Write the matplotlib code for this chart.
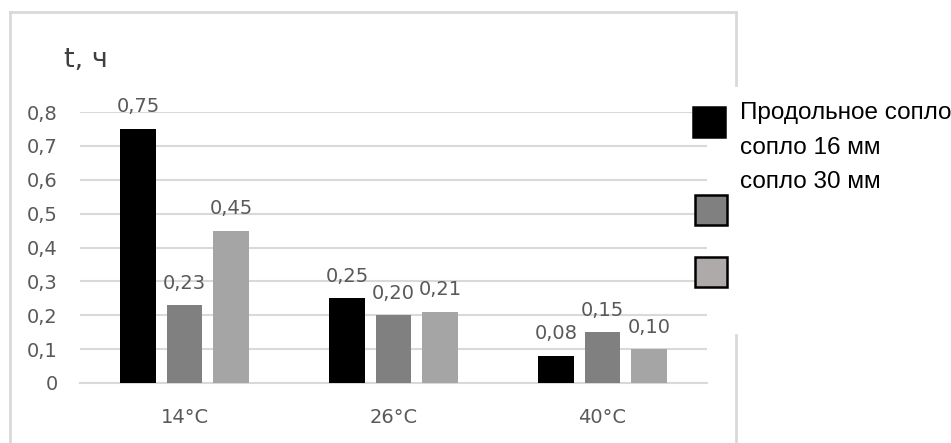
import matplotlib.pyplot as plt
from matplotlib.patches import Rectangle
from matplotlib.lines import Line2D
import numpy as np

categories = ["14°C", "26°C", "40°C"]
series_names = ["Продольное сопло", "сопло 16 мм", "сопло 30 мм"]
longitudinal = [0.75, 0.25, 0.08]
nozzle_16 = [0.23, 0.20, 0.15]
nozzle_30 = [0.45, 0.21, 0.10]
y_ticks = [0, 0.1, 0.2, 0.3, 0.4, 0.5, 0.6, 0.7, 0.8]

bar_colors = ["#000000", "#808080", "#A5A5A5"]
swatch_colors = ["#000000", "#808080", "#AEAAAA"]
text_gray = "#595959"
grid_gray = "#D9D9D9"

W, H = 951, 443
fig = plt.figure(figsize=(W / 100, H / 100), dpi=100)


def fx(px):
    return px / W


def fy(py):
    return 1 - py / H


# chart frame (bottom edge falls outside the image)
frame = dict(color=grid_gray, lw=2, transform=fig.transFigure)
fig.add_artist(Line2D([fx(10), fx(10)], [fy(12), fy(445)], **frame))
fig.add_artist(Line2D([fx(10), fx(736)], [fy(12), fy(12)], **frame))
fig.add_artist(Line2D([fx(736), fx(736)], [fy(12), fy(85)], **frame))
fig.add_artist(Line2D([fx(736), fx(736)], [fy(335), fy(445)], **frame))

ax = fig.add_axes([fx(80), fy(383), fx(707) - fx(80), fy(112) - fy(383)])

x = np.arange(len(categories))
width = 0.172
step = 0.2225
for i, vals in enumerate([longitudinal, nozzle_16, nozzle_30]):
    bars = ax.bar(x + (i - 1) * step, vals, width, color=bar_colors[i], zorder=3)
    for b, v in zip(bars, vals):
        ax.annotate(f"{v:.2f}".replace(".", ","),
                    (b.get_x() + b.get_width() / 2, v),
                    xytext=(0, 9), textcoords="offset points",
                    ha="center", va="bottom", fontsize=14, color=text_gray)

ax.set_xlim(-0.5, 2.5)
ax.set_ylim(0, 0.8)
ax.set_yticks(y_ticks)
ax.set_yticklabels([("%g" % t).replace(".", ",") for t in y_ticks])
ax.set_xticks(x)
ax.set_xticklabels(categories)
ax.tick_params(axis="y", length=0, pad=16, labelsize=14, labelcolor=text_gray)
ax.tick_params(axis="x", length=0, pad=18, labelsize=14, labelcolor=text_gray)
ax.grid(axis="y", color=grid_gray, lw=1.5, zorder=0)
ax.set_axisbelow(True)
for s in ["top", "right", "left"]:
    ax.spines[s].set_visible(False)
ax.spines["bottom"].set_color(grid_gray)
ax.spines["bottom"].set_linewidth(1.5)
ax.spines["bottom"].set_zorder(0)

fig.text(fx(64), fy(60), "t, ч", fontsize=19.5, color="#404040", ha="left", va="center")

# legend: swatches on the left, names stacked beside the first one
swatch_tops = [107, 195, 257]
swatch_lefts = [693, 695, 695]
for i, c in enumerate(swatch_colors):
    edge = c if i == 0 else "#000000"
    fig.add_artist(Rectangle((fx(swatch_lefts[i]), fy(swatch_tops[i] + 30)),
                             fx(32), 30 / H, facecolor=c, edgecolor=edge,
                             lw=1.8, transform=fig.transFigure))
for name, yc in zip(series_names, [113, 148, 182]):
    fig.text(fx(740), fy(yc), name, fontsize=17.5, family="Liberation Sans",
             color="black", ha="left", va="center")

fig.savefig("out.png", dpi=100)
